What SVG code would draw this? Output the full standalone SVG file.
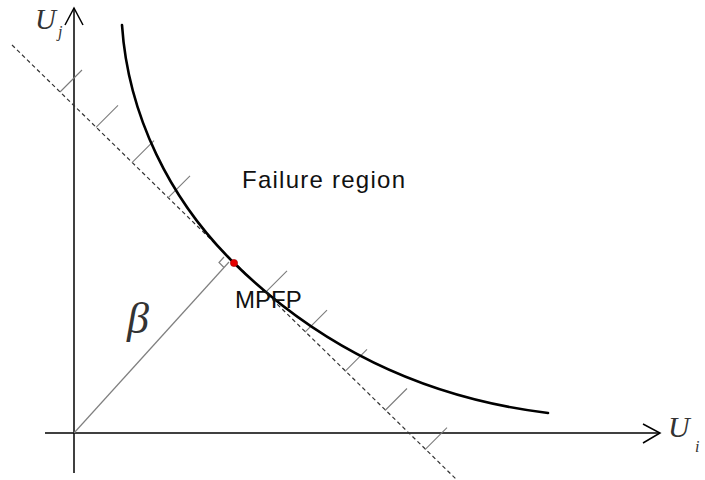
<svg xmlns="http://www.w3.org/2000/svg" width="705" height="480" viewBox="0 0 705 480">
  <style>
    .axis { stroke: #000; stroke-width: 1.5; fill: none; }
    .tick { stroke: #7a7a7a; stroke-width: 1.1; fill: none; }
    .dash { stroke: #333; stroke-width: 1.2; stroke-dasharray: 4 3; fill: none; }
    .curve { stroke: #000; stroke-width: 2.6; fill: none; stroke-linecap: round; }
    .beta { stroke: #808080; stroke-width: 1.2; fill: none; }
    .math { font-family: "Liberation Serif", "DejaVu Serif", serif; font-style: italic; fill: #333; }
    .lbl { font-family: "Liberation Sans", Arial, sans-serif; font-size: 24px; fill: #111; }
  </style>
  <rect width="705" height="480" fill="#fff"/>

  <g id="axes">
    <line class="axis" x1="74" y1="473" x2="74" y2="8"/>
    <polyline class="axis" points="65,25 74,8 83,25"/>
    <line class="axis" x1="45" y1="433" x2="660" y2="433"/>
    <polyline class="axis" points="643,424 660,433 643,443"/>
    <text class="math" x="35" y="29" font-size="29">U</text>
    <text class="math" x="58" y="37" font-size="16">j</text>
    <text class="math" x="668" y="437" font-size="30">U</text>
    <text class="math" x="695" y="452" font-size="16">i</text>
  </g>

  <g id="tangent-line">
    <line class="dash" x1="12" y1="45" x2="457" y2="480"/>
    <g id="hatching">
      <line class="tick" x1="60" y1="92" x2="82" y2="70"/>
      <line class="tick" x1="96" y1="127.3" x2="118" y2="105.3"/>
      <line class="tick" x1="132" y1="162.6" x2="154" y2="140.6"/>
      <line class="tick" x1="168" y1="197.9" x2="190" y2="175.9"/>
      <line class="tick" x1="265" y1="292.9" x2="287" y2="270.9"/>
      <line class="tick" x1="305" y1="332.1" x2="327" y2="310.1"/>
      <line class="tick" x1="345" y1="371.3" x2="367" y2="349.3"/>
      <line class="tick" x1="385" y1="410.5" x2="407" y2="388.5"/>
      <line class="tick" x1="425" y1="449.7" x2="447" y2="427.7"/>
    </g>
  </g>

  <g id="limit-state">
    <path class="curve" d="M122,25 C128,115 170,200 234,263 C300,328 400,395 548,413"/>
  </g>

  <g id="beta">
    <line class="beta" x1="74" y1="433" x2="229" y2="262"/>
    <polyline class="beta" points="224,267.5 219,262.5 224,257"/>
    <text class="math" x="127" y="333" font-size="44">β</text>
  </g>

  <g id="mpfp">
    <circle cx="234" cy="263" r="3.6" fill="#e60000" stroke="#a00000" stroke-width="0.6"/>
    <text class="lbl" x="235" y="308">MPFP</text>
  </g>

  <g id="failure-region">
    <text class="lbl" x="242" y="188" textLength="163" lengthAdjust="spacing">Failure region</text>
  </g>
</svg>
